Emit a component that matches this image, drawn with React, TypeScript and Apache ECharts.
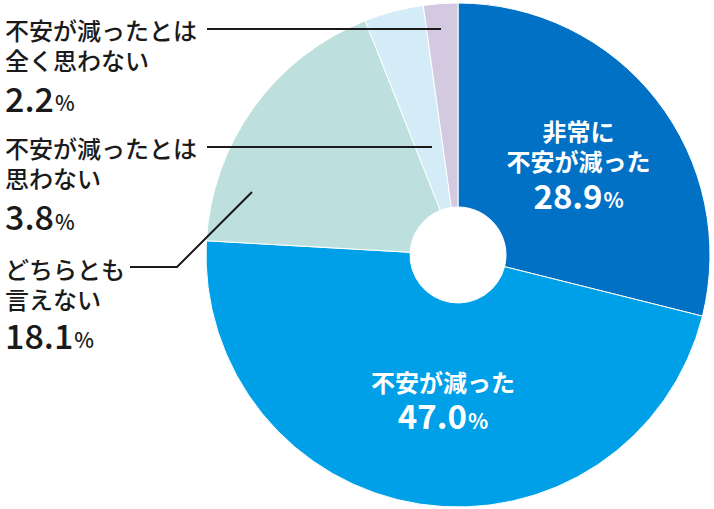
import React, { useEffect, useRef } from "react";
import * as echarts from "echarts";

const names = [
  "非常に\n不安が減った",
  "不安が減った",
  "どちらとも\n言えない",
  "不安が減ったとは\n思わない",
  "不安が減ったとは\n全く思わない",
];
const values = [28.9, 47.0, 18.1, 3.8, 2.2];
const colors = ["#0071c5", "#00a0e8", "#bde0de", "#d4ebf8", "#d3c9e1"];
const inside = [true, true, false, false, false];

// layout of the labels (outside: label top-left) and leader lines
const outsideLayout: Record<number, { x: number; y: number; numLH: number }> = {
  2: { x: 5, y: 253, numLH: 42 },
  3: { x: 5, y: 132, numLH: 47 },
  4: { x: 5, y: 14, numLH: 46 },
};
const insideShift: Record<number, { dx: number; dy: number }> = {
  0: { dx: 0, dy: 4 },
  1: { dx: 8, dy: -6 },
};
const leaderLines: number[][][] = [
  [[441, 29], [207, 29]],
  [[432, 147], [207, 147]],
  [[252, 192], [177, 267], [130, 267]],
];

const FONT = '"Noto Sans CJK JP", "Noto Sans", sans-serif';

export default function App() {
  const ref = useRef<HTMLDivElement>(null);
  useEffect(() => {
    if (!ref.current) return;
    const chart = echarts.init(ref.current, undefined, { renderer: "svg" });
    const data = names.map((n, i) => {
      const nameLines = n.split("\n");
      const txt =
        nameLines.map((l) => `{n|${l}}`).join("\n") +
        `\n{v|${values[i].toFixed(1)}}{p|%}`;
      if (inside[i]) {
        return {
          name: n,
          value: values[i],
          itemStyle: { color: colors[i] },
          label: {
            show: true,
            position: "inside",
            formatter: txt,
            align: "center",
            rich: {
              n: { color: "#fff", fontSize: 24, fontWeight: "bold", fontFamily: FONT, lineHeight: 30, align: "center" },
              v: { color: "#fff", fontSize: 33, fontWeight: "bold", fontFamily: FONT, lineHeight: 38 },
              p: { color: "#fff", fontSize: 21, fontWeight: "bold", fontFamily: FONT, lineHeight: 38, padding: [9, 0, 0, 1] },
            },
          },
          labelLine: { show: false },
        };
      }
      const lh = outsideLayout[i].numLH;
      return {
        name: n,
        value: values[i],
        itemStyle: { color: colors[i] },
        label: {
          show: true,
          position: "outside",
          formatter: txt,
          align: "left",
          rich: {
            n: { color: "#1a1a1a", fontSize: 24, fontWeight: 500, fontFamily: FONT, lineHeight: 30 },
            v: { color: "#1a1a1a", fontSize: 34, fontWeight: 500, fontFamily: FONT, lineHeight: lh },
            p: { color: "#1a1a1a", fontSize: 21, fontWeight: 500, fontFamily: FONT, lineHeight: lh, padding: [10, 0, 0, 1] },
          },
        },
        labelLine: { show: false },
      };
    });

    chart.setOption({
      animation: false,
      graphic: leaderLines.map((pts) => ({
        type: "polyline",
        shape: { points: pts },
        style: { stroke: "#1a1a1a", lineWidth: 2, fill: null },
        z: 100,
        silent: true,
      })),
      series: [
        {
          type: "pie",
          center: [458, 255],
          radius: [48, 252],
          startAngle: 90,
          clockwise: true,
          avoidLabelOverlap: false,
          itemStyle: { borderColor: "#ffffff", borderWidth: 1 },
          emphasis: { disabled: true },
          data,
          labelLayout: (params: any) => {
            const o = outsideLayout[params.dataIndex];
            if (o) {
              return { x: o.x, y: o.y, align: "left", verticalAlign: "top" };
            }
            return insideShift[params.dataIndex] || {};
          },
        },
      ],
    });
    return () => chart.dispose();
  }, []);
  return (
    <div
      ref={ref}
      style={{ position: "absolute", left: 0, top: 0, width: 714, height: 509 }}
    />
  );
}
